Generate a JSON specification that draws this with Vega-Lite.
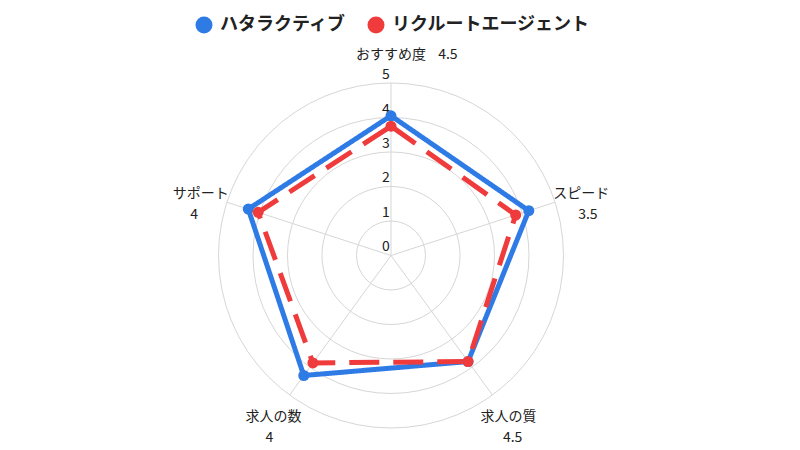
{
  "$schema": "https://vega.github.io/schema/vega-lite/v6.json",
  "width": 800,
  "height": 450,
  "autosize": "none",
  "padding": 0,
  "background": "white",
  "datasets": {
    "scores": [
      {"series": "ハタラクティブ", "axis": "おすすめ度", "value": 4.05},
      {"series": "ハタラクティブ", "axis": "スピード", "value": 4.2},
      {"series": "ハタラクティブ", "axis": "求人の質", "value": 3.8},
      {"series": "ハタラクティブ", "axis": "求人の数", "value": 4.3},
      {"series": "ハタラクティブ", "axis": "サポート", "value": 4.35},
      {"series": "リクルートエージェント", "axis": "おすすめ度", "value": 3.75},
      {"series": "リクルートエージェント", "axis": "スピード", "value": 3.8},
      {"series": "リクルートエージェント", "axis": "求人の質", "value": 3.8},
      {"series": "リクルートエージェント", "axis": "求人の数", "value": 3.85},
      {"series": "リクルートエージェント", "axis": "サポート", "value": 4.05}
    ],
    "axes": [
      {"axis": "おすすめ度", "score": "4.5"},
      {"axis": "スピード", "score": "3.5"},
      {"axis": "求人の質", "score": "4.5"},
      {"axis": "求人の数", "score": "4"},
      {"axis": "サポート", "score": "4"}
    ],
    "levels": [
      {"level": 0}, {"level": 1}, {"level": 2}, {"level": 3}, {"level": 4}, {"level": 5}
    ]
  },
  "layer": [
    {
      "data": {"name": "levels"},
      "transform": [{"filter": "datum.level > 0"}, {"calculate": "0", "as": "ox"}],
      "mark": {"type": "point", "shape": "circle", "filled": false, "stroke": "#d6d6d6", "strokeWidth": 1, "opacity": 1},
      "encoding": {
        "x": {"field": "ox", "type": "quantitative", "scale": {"domain": [-11.333, 11.855], "nice": false, "zero": false}, "axis": null},
        "y": {"field": "ox", "type": "quantitative", "scale": {"domain": [-5.638, 7.406], "nice": false, "zero": false}, "axis": null},
        "size": {"field": "level", "type": "quantitative", "scale": {"type": "pow", "exponent": 2, "domain": [0, 5], "range": [0, 119025], "zero": true}, "legend": null}
      }
    },
    {
      "data": {"name": "axes"},
      "transform": [
        {"window": [{"op": "row_number", "as": "i"}]},
        {"calculate": "(datum.i - 1) * 2 * PI / 5", "as": "a"},
        {"calculate": "5 * sin(datum.a)", "as": "ex"},
        {"calculate": "5 * cos(datum.a)", "as": "ey"},
        {"calculate": "0", "as": "ox"}
      ],
      "mark": {"type": "rule", "stroke": "#d6d6d6", "strokeWidth": 1},
      "encoding": {
        "x": {"field": "ox", "type": "quantitative"},
        "y": {"field": "ox", "type": "quantitative"},
        "x2": {"field": "ex"},
        "y2": {"field": "ey"}
      }
    },
    {
      "data": {"name": "levels"},
      "transform": [{"calculate": "0", "as": "ox"}],
      "mark": {"type": "text", "font": "Noto Sans CJK JP", "fontSize": 14, "color": "#222222", "dx": -5, "dy": -8, "align": "center", "baseline": "middle"},
      "encoding": {
        "x": {"field": "ox", "type": "quantitative"},
        "y": {"field": "level", "type": "quantitative"},
        "text": {"field": "level", "type": "quantitative"}
      }
    },
    {
      "data": {"name": "scores"},
      "transform": [
        {"window": [{"op": "row_number", "as": "i"}], "groupby": ["series"]},
        {"calculate": "(datum.i - 1) * 2 * PI / 5", "as": "a"},
        {"calculate": "datum.value * sin(datum.a)", "as": "px"},
        {"calculate": "datum.value * cos(datum.a)", "as": "py"}
      ],
      "layer": [
        {
          "mark": {"type": "line", "interpolate": "linear-closed", "strokeWidth": 5, "strokeJoin": "round"},
          "encoding": {
            "x": {"field": "px", "type": "quantitative"},
            "y": {"field": "py", "type": "quantitative"},
            "order": {"field": "i", "type": "quantitative"},
            "color": {"field": "series", "type": "nominal"},
            "strokeDash": {"field": "series", "type": "nominal", "scale": {"domain": ["ハタラクティブ", "リクルートエージェント"], "range": [[1, 0], [30, 14]]}, "legend": null}
          }
        },
        {
          "mark": {"type": "point", "filled": true, "shape": "circle", "size": 121, "opacity": 1},
          "encoding": {
            "x": {"field": "px", "type": "quantitative"},
            "y": {"field": "py", "type": "quantitative"},
            "color": {"field": "series", "type": "nominal"}
          }
        }
      ]
    },
    {
      "data": {"name": "axes"},
      "transform": [
        {"window": [{"op": "row_number", "as": "i"}]},
        {"calculate": "(datum.i - 1) * 2 * PI / 5", "as": "a"},
        {"calculate": "5.8 * sin(datum.a)", "as": "lx"},
        {"calculate": "5.8 * cos(datum.a)", "as": "ly"},
        {"calculate": "datum.i == 1 ? datum.lx + 1.65 : datum.lx + 0.2 * sin(datum.a)", "as": "sx"},
        {"calculate": "datum.i == 1 ? datum.ly : datum.ly - 0.61", "as": "sy"}
      ],
      "layer": [
        {
          "mark": {"type": "text", "font": "Noto Sans CJK JP", "fontSize": 14, "color": "#222222", "align": "center", "baseline": "middle"},
          "encoding": {
            "x": {"field": "lx", "type": "quantitative"},
            "y": {"field": "ly", "type": "quantitative"},
            "text": {"field": "axis", "type": "nominal"}
          }
        },
        {
          "mark": {"type": "text", "font": "Noto Sans CJK JP", "fontSize": 14, "color": "#222222", "align": "center", "baseline": "middle"},
          "encoding": {
            "x": {"field": "sx", "type": "quantitative"},
            "y": {"field": "sy", "type": "quantitative"},
            "text": {"field": "score", "type": "nominal"}
          }
        }
      ]
    }
  ],
  "resolve": {"scale": {"size": "independent"}, "legend": {"size": "independent"}},
  "config": {
    "view": {"stroke": null},
    "range": {"category": ["#2e7be6", "#ef3b3b"]},
    "legend": {
      "orient": "none",
      "legendX": 195,
      "legendY": 16,
      "direction": "horizontal",
      "title": null,
      "padding": 0,
      "symbolType": "circle",
      "symbolSize": 289,
      "symbolStrokeWidth": 0,
      "symbolFillColor": null,
      "symbolOpacity": 1,
      "labelFont": "Noto Sans CJK JP",
      "labelFontSize": 18,
      "labelFontWeight": "bold",
      "labelColor": "#222222",
      "labelOffset": 7,
      "columnPadding": 21,
      "labelLimit": 400
    }
  }
}
